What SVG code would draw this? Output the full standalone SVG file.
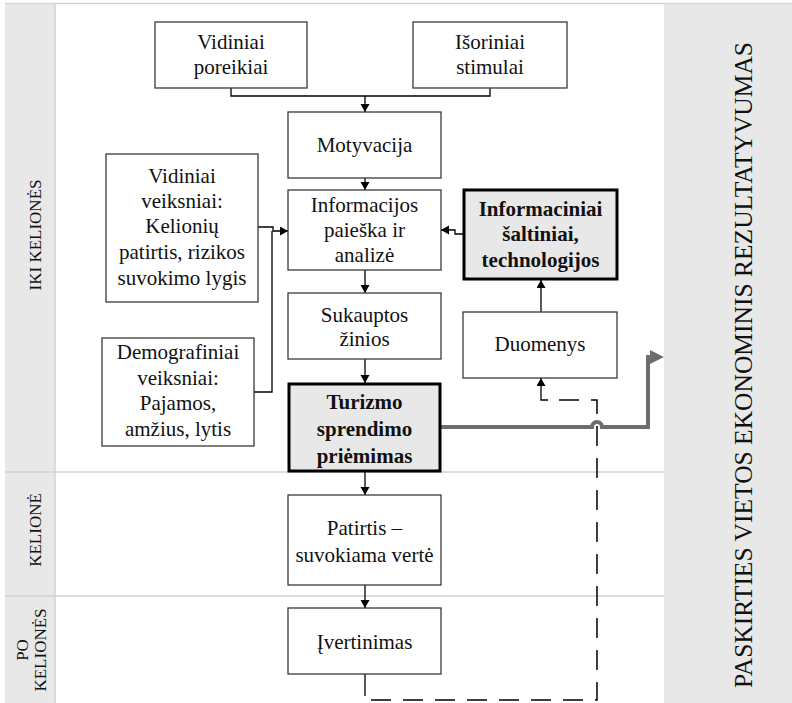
<svg xmlns="http://www.w3.org/2000/svg" width="792" height="703" viewBox="0 0 792 703" font-family="'Liberation Serif', 'Times New Roman', serif">
  <style>
    .band { fill: #e8e8e8; }
    .rule { stroke: #d2d2d2; stroke-width: 1.5; fill: none; }
    .box { fill: #ffffff; stroke: #3a3a3a; stroke-width: 1.3; }
    .key { fill: #e8e8e8; stroke: #000000; stroke-width: 3; }
    .t { font-size: 21px; fill: #111; text-anchor: middle; }
    .tb { font-size: 21px; font-weight: bold; fill: #111; text-anchor: middle; }
    .lab { font-size: 17px; fill: #111; text-anchor: middle; }
    .big { font-size: 25.5px; fill: #111; text-anchor: middle; }
    .ln { fill: none; stroke: #000; stroke-width: 1.3; }
    .dash { fill: none; stroke: #000; stroke-width: 1.5; stroke-dasharray: 20 12; }
    .grey { fill: none; stroke: #6e6e6e; stroke-width: 4; }
  </style>
  <defs>
    <marker id="arr" markerUnits="userSpaceOnUse" markerWidth="10" markerHeight="10" refX="8" refY="4.5" orient="auto">
      <path d="M0,0 L8,4.5 L0,9 z" fill="#000"/>
    </marker>
    <marker id="garr" markerUnits="userSpaceOnUse" markerWidth="16" markerHeight="16" refX="0" refY="7" orient="auto">
      <path d="M0,0 L14,7 L0,14 z" fill="#6e6e6e"/>
    </marker>
  </defs>

  <!-- phase bands and table rules -->
  <g id="frame">
    <rect class="band" x="5" y="4" width="50" height="699"/>
    <rect class="band" x="664" y="4" width="128" height="699"/>
    <line class="rule" x1="5" y1="3.5" x2="792" y2="3.5"/>
    <line class="rule" x1="55" y1="4" x2="55" y2="703"/>
    <line class="rule" x1="5" y1="472" x2="664" y2="472"/>
    <line class="rule" x1="5" y1="596" x2="664" y2="596"/>
    <text class="lab" transform="translate(41,235) rotate(-90)">IKI KELIONĖS</text>
    <text class="lab" transform="translate(41,530) rotate(-90)">KELIONĖ</text>
    <text class="lab" transform="translate(28,650) rotate(-90)">PO</text>
    <text class="lab" transform="translate(46,650) rotate(-90)">KELIONĖS</text>
    <text class="big" transform="translate(752,365) rotate(-90)">PASKIRTIES VIETOS EKONOMINIS REZULTATYVUMAS</text>
  </g>

  <!-- connectors -->
  <g id="connectors">
    <path class="ln" d="M231,88 V96 H490 V88"/>
    <path class="ln" d="M365,96 V112" marker-end="url(#arr)"/>
    <path class="ln" d="M365,178 V190" marker-end="url(#arr)"/>
    <path class="ln" d="M365,270 V293" marker-end="url(#arr)"/>
    <path class="ln" d="M365,359 V383" marker-end="url(#arr)"/>
    <path class="ln" d="M365,472 V495" marker-end="url(#arr)"/>
    <path class="ln" d="M365,585 V608" marker-end="url(#arr)"/>
    <path class="ln" d="M258,227 H273 V231 H288" marker-end="url(#arr)"/>
    <path class="ln" d="M254,392 H272 V231"/>
    <path class="ln" d="M463,234 H455 V230 H441" marker-end="url(#arr)"/>
    <path class="ln" d="M541,312 V280" marker-end="url(#arr)"/>
    <path class="ln" d="M365,674 V696"/>
    <path class="dash" d="M371,700 H597 V400 H556"/>
    <path class="ln" d="M548,400 H541 V378" marker-end="url(#arr)"/>
    <path class="grey" d="M441,427 H592 A5,5 0 0 1 602,427 H648 V357 H650" marker-end="url(#garr)"/>
  </g>

  <g id="vidiniai-poreikiai">
    <rect class="box" x="155" y="22" width="152" height="66"/>
    <text class="t" x="231" y="49">Vidiniai</text>
    <text class="t" x="231" y="74">poreikiai</text>
  </g>
  <g id="isoriniai-stimulai">
    <rect class="box" x="413" y="22" width="154" height="66"/>
    <text class="t" x="490" y="49">Išoriniai</text>
    <text class="t" x="490" y="74">stimulai</text>
  </g>
  <g id="motyvacija">
    <rect class="box" x="288" y="112" width="153" height="66"/>
    <text class="t" x="364.5" y="152">Motyvacija</text>
  </g>
  <g id="informacijos-paieska">
    <rect class="box" x="288" y="190" width="153" height="80"/>
    <text class="t" x="364.5" y="212">Informacijos</text>
    <text class="t" x="364.5" y="237">paieška ir</text>
    <text class="t" x="364.5" y="262">analizė</text>
  </g>
  <g id="sukauptos-zinios">
    <rect class="box" x="288" y="293" width="153" height="66"/>
    <text class="t" x="364.5" y="322">Sukauptos</text>
    <text class="t" x="364.5" y="346">žinios</text>
  </g>
  <g id="turizmo-sprendimo-priemimas">
    <rect class="key" x="289" y="384" width="151" height="87"/>
    <text class="tb" x="364.5" y="409">Turizmo</text>
    <text class="tb" x="364.5" y="436">sprendimo</text>
    <text class="tb" x="364.5" y="463">priėmimas</text>
  </g>
  <g id="vidiniai-veiksniai">
    <rect class="box" x="106" y="154" width="152" height="148"/>
    <text class="t" x="182" y="183">Vidiniai</text>
    <text class="t" x="182" y="208">veiksniai:</text>
    <text class="t" x="182" y="233">Kelionių</text>
    <text class="t" x="182" y="259">patirtis, rizikos</text>
    <text class="t" x="182" y="285">suvokimo lygis</text>
  </g>
  <g id="demografiniai-veiksniai">
    <rect class="box" x="102" y="338" width="152" height="108"/>
    <text class="t" x="178" y="359">Demografiniai</text>
    <text class="t" x="178" y="385">veiksniai:</text>
    <text class="t" x="178" y="410">Pajamos,</text>
    <text class="t" x="178" y="436">amžius, lytis</text>
  </g>
  <g id="informaciniai-saltiniai">
    <rect class="key" x="464" y="190" width="153" height="89"/>
    <text class="tb" x="540.5" y="216">Informaciniai</text>
    <text class="tb" x="540.5" y="241">šaltiniai,</text>
    <text class="tb" x="540.5" y="267">technologijos</text>
  </g>
  <g id="duomenys">
    <rect class="box" x="463" y="312" width="154" height="66"/>
    <text class="t" x="540" y="351">Duomenys</text>
  </g>
  <g id="patirtis">
    <rect class="box" x="288" y="495" width="153" height="90"/>
    <text class="t" x="364.5" y="535">Patirtis –</text>
    <text class="t" x="364.5" y="562">suvokiama vertė</text>
  </g>
  <g id="ivertinimas">
    <rect class="box" x="288" y="608" width="153" height="66"/>
    <text class="t" x="364.5" y="649">Įvertinimas</text>
  </g>
</svg>
